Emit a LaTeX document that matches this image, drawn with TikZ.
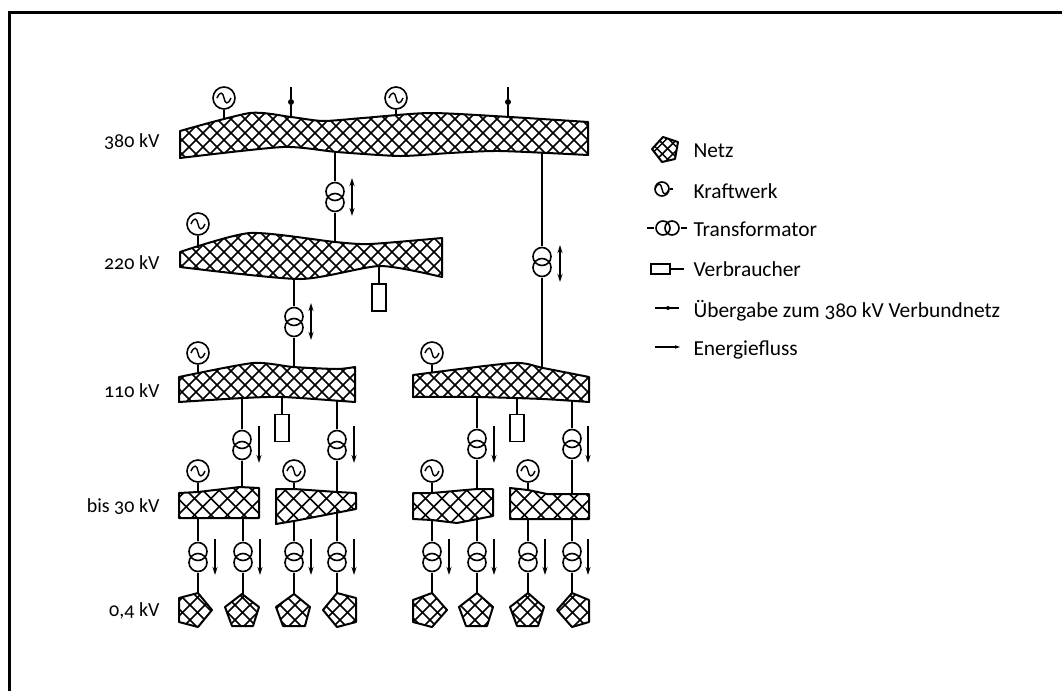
\documentclass[tikz,border=0pt]{standalone}
\usepackage{fontspec}
\setmainfont[Numbers=OldStyle]{Carlito}
\usetikzlibrary{arrows.meta}
\tikzset{
  netz/.style={line width=2pt,line join=round},
  schraffur/.style={line width=1.5pt},
  leitung/.style={line width=1.6pt},
  sinus/.style={path picture={\draw[line width=1.4pt,shift={(path picture bounding box.center)},scale=#1]
    (-7,0) .. controls (-4,-7) and (-1,-6) .. (0,0) .. controls (1,6) and (4,7) .. (7,0);}},
  gen/.style={circle,draw,line width=1.6pt,minimum size=22pt,inner sep=0pt,sinus=1},
  genklein/.style={circle,draw,line width=1.6pt,minimum size=14pt,inner sep=0pt,sinus=.62},
  trafo/.style={minimum width=21pt,minimum height=32pt,inner sep=0pt,
    path picture={\draw[line width=1.6pt,shift={(path picture bounding box.center)}]
      (0,-5.5) circle[radius=9] (0,5.5) circle[radius=9];}},
  trafoquer/.style={minimum width=26pt,minimum height=17pt,inner sep=0pt,
    path picture={\draw[line width=1.6pt,shift={(path picture bounding box.center)}]
      (-4.5,0) circle[radius=7] (4.5,0) circle[radius=7];}},
  last/.style={draw,line width=1.6pt,minimum width=14pt,minimum height=27pt,inner sep=0pt},
  lastquer/.style={draw,line width=1.6pt,minimum width=19pt,minimum height=10pt,inner sep=0pt},
  punkt/.style={circle,fill=black,minimum size=6pt,inner sep=0pt},
  ab/.style={line width=1.6pt,-{Stealth[length=8pt,width=5pt]}},
  beide/.style={line width=1.6pt,{Stealth[length=8pt,width=5pt]}-{Stealth[length=8pt,width=5pt]}},
  ebene/.style={anchor=east,font=\fontsize{20}{24}\selectfont},
  legende/.style={anchor=west,font=\fontsize{21.4}{24}\selectfont},
}
\newcommand{\netzfl}[2]{%
  \begin{scope}
  \clip #2;
  \pgfmathsetmacro\netzb{-700+#1}
  \foreach \d in {-700,\netzb,...,700} {
    \draw[schraffur] (\d,0)--(\d+700,700);
    \draw[schraffur] (\d,700)--(\d+700,0);
  }
  \end{scope}
  \draw[netz] #2;}
\begin{document}
\begin{tikzpicture}[x=1pt,y=-1pt]
\path[use as bounding box] (0,0) rectangle (1062,691);
\draw[line width=3pt] (9.5,691) -- (9.5,12.5) -- (1062,12.5);
% netze
\netzfl{14}{plot[smooth,tension=.4] coordinates {(180,131) (250,113) (291,117) (323,121) (363,118) (430,113) (510,117) (588,122)} -- plot[smooth,tension=.4] coordinates {(588,155) (500,151) (450,153) (400,156) (337,152) (283,147) (180,158)} -- cycle}
\netzfl{14}{plot[smooth,tension=.4] coordinates {(180,252) (250,233) (335,242) (370,244) (442,238)} -- plot[smooth,tension=.4] coordinates {(442,277) (380,266) (300,279) (180,267)} -- cycle}
\netzfl{14}{plot[smooth,tension=.4] coordinates {(179,377) (253,363) (293,367) (337,369) (355,367)} -- plot[smooth,tension=.4] coordinates {(355,402) (283,397) (243,398) (179,402)} -- cycle}
\netzfl{14}{plot[smooth,tension=.4] coordinates {(413,375) (513,363) (543,368) (589,377)} -- plot[smooth,tension=.4] coordinates {(589,402) (543,399) (477,397) (413,397)} -- cycle}
\netzfl{16.5}{(179,493)--(198,492)--(240,487)--(259,488)--(259,518)--(179,518)--cycle}
\netzfl{16.5}{(276,489)--(294,489)--(337,492)--(356,493)--(356,509)--(294,521)--(276,524)--cycle}
\netzfl{16.5}{(413,493)--(432,493)--(477,489)--(493,489)--(493,516)--(457,523)--(432,520)--(413,519)--cycle}
\netzfl{16.5}{(510,488)--(528,490)--(547,494)--(589,494)--(589,519)--(510,519)--cycle}
\netzfl{15}{(179,598)--(198,593)--(212,610)--(198,627)--(179,622)--cycle}
\netzfl{15}{(242,594)--(259,607)--(253,626)--(232,626)--(225,607)--cycle}
\netzfl{15}{(294,594)--(310,607)--(305,626)--(283,626)--(276,607)--cycle}
\netzfl{15}{(337,593)--(356,598)--(356,622)--(337,627)--(323,610)--cycle}
\netzfl{15}{(432,593)--(447,610)--(432,627)--(413,622)--(413,600)--cycle}
\netzfl{15}{(477,593)--(493,607)--(487,626)--(466,626)--(459,607)--cycle}
\netzfl{15}{(528,593)--(544,607)--(538,626)--(517,626)--(510,607)--cycle}
\netzfl{15}{(572,593)--(589,600)--(589,622)--(572,627)--(557,610)--cycle}
% anschluesse an den netzen
\coordinate (a380a) at (224,118);
\coordinate (a380b) at (396,115);
\coordinate (a380c) at (291,117);
\coordinate (a380d) at (508,117);
\coordinate (a380e) at (335,152);
\coordinate (a380f) at (542,152);
\coordinate (a220a) at (198,248);
\coordinate (a220b) at (335,242);
\coordinate (a220c) at (294,278);
\coordinate (a220d) at (379,266);
\coordinate (a110a) at (198,374);
\coordinate (a110b) at (294,367);
\coordinate (a110c) at (242,398);
\coordinate (a110d) at (282,397);
\coordinate (a110e) at (337,401);
\coordinate (a110f) at (432,373);
\coordinate (a110g) at (542,368);
\coordinate (a110h) at (477,397);
\coordinate (a110i) at (517,398);
\coordinate (a110j) at (572,400);
\coordinate (a30a) at (198,492);
\coordinate (a30b) at (242,487);
\coordinate (a30c) at (198,518);
\coordinate (a30d) at (243,518);
\coordinate (a30e) at (294,489);
\coordinate (a30f) at (337,492);
\coordinate (a30g) at (294,521);
\coordinate (a30h) at (337,510);
\coordinate (a30i) at (432,493);
\coordinate (a30j) at (477,489);
\coordinate (a30k) at (432,520);
\coordinate (a30l) at (477,517);
\coordinate (a30m) at (528,490);
\coordinate (a30n) at (572,494);
\coordinate (a30o) at (528,519);
\coordinate (a30p) at (572,519);
\coordinate (p1) at (198,593);
\coordinate (p2) at (243,594);
\coordinate (p3) at (294,594);
\coordinate (p4) at (337,593);
\coordinate (p5) at (432,593);
\coordinate (p6) at (477,593);
\coordinate (p7) at (528,593);
\coordinate (p8) at (572,593);
\coordinate (u1o) at (291,87);
\coordinate (u2o) at (508,87);
% kraftwerke
\node[gen] (g1) at (224,98) {};
\node[gen] (g2) at (396,98) {};
\node[gen] (g3) at (198,224) {};
\node[gen] (g4) at (198,353) {};
\node[gen] (g5) at (432,353) {};
\node[gen] (g6) at (198,471) {};
\node[gen] (g7) at (294,471) {};
\node[gen] (g8) at (432,471) {};
\node[gen] (g9) at (528,471) {};
\draw[leitung] (g1) -- (a380a);
\draw[leitung] (g2) -- (a380b);
\draw[leitung] (g3) -- (a220a);
\draw[leitung] (g4) -- (a110a);
\draw[leitung] (g5) -- (a110f);
\draw[leitung] (g6) -- (a30a);
\draw[leitung] (g7) -- (a30e);
\draw[leitung] (g8) -- (a30i);
\draw[leitung] (g9) -- (a30m);
% uebergabe
\node[punkt] (u1) at (291,102) {};
\node[punkt] (u2) at (508,102) {};
\draw[leitung] (u1o) -- (u1) -- (a380c);
\draw[leitung] (u2o) -- (u2) -- (a380d);
% trafos
\node[trafo] (t1) at (335,197) {};
\node[trafo] (t2) at (542,262) {};
\node[trafo] (t3) at (294,322) {};
\node[trafo] (t4) at (242,445) {};
\node[trafo] (t5) at (337,445) {};
\node[trafo] (t6) at (477,444) {};
\node[trafo] (t7) at (572,444) {};
\node[trafo] (t8) at (198,557) {};
\node[trafo] (t9) at (243,557) {};
\node[trafo] (t10) at (294,557) {};
\node[trafo] (t11) at (337,557) {};
\node[trafo] (t12) at (432,557) {};
\node[trafo] (t13) at (477,557) {};
\node[trafo] (t14) at (528,557) {};
\node[trafo] (t15) at (572,557) {};
\draw[leitung] (a380e) -- (t1.north);
\draw[leitung] (t1.south) -- (a220b);
\draw[leitung] (a380f) -- (t2.north);
\draw[leitung] (t2.south) -- (a110g);
\draw[leitung] (a220c) -- (t3.north);
\draw[leitung] (t3.south) -- (a110b);
\draw[leitung] (a110c) -- (t4.north);
\draw[leitung] (t4.south) -- (a30b);
\draw[leitung] (a110e) -- (t5.north);
\draw[leitung] (t5.south) -- (a30f);
\draw[leitung] (a110h) -- (t6.north);
\draw[leitung] (t6.south) -- (a30j);
\draw[leitung] (a110j) -- (t7.north);
\draw[leitung] (t7.south) -- (a30n);
\draw[leitung] (a30c) -- (t8.north);
\draw[leitung] (t8.south) -- (p1);
\draw[leitung] (a30d) -- (t9.north);
\draw[leitung] (t9.south) -- (p2);
\draw[leitung] (a30g) -- (t10.north);
\draw[leitung] (t10.south) -- (p3);
\draw[leitung] (a30h) -- (t11.north);
\draw[leitung] (t11.south) -- (p4);
\draw[leitung] (a30k) -- (t12.north);
\draw[leitung] (t12.south) -- (p5);
\draw[leitung] (a30l) -- (t13.north);
\draw[leitung] (t13.south) -- (p6);
\draw[leitung] (a30o) -- (t14.north);
\draw[leitung] (t14.south) -- (p7);
\draw[leitung] (a30p) -- (t15.north);
\draw[leitung] (t15.south) -- (p8);
% verbraucher
\node[last] (v1) at (379,297.5) {};
\node[last] (v2) at (282,428) {};
\node[last] (v3) at (517,428) {};
\draw[leitung] (a220d) -- (v1);
\draw[leitung] (a110d) -- (v2);
\draw[leitung] (a110i) -- (v3);
% energiefluss
\coordinate (f1a) at (352,178); \coordinate (f1b) at (352,216);
\coordinate (f2a) at (311,303); \coordinate (f2b) at (311,340);
\coordinate (f3a) at (560,245); \coordinate (f3b) at (560,282);
\coordinate (f4a) at (259,426); \coordinate (f4b) at (259,463);
\coordinate (f5a) at (354,426); \coordinate (f5b) at (354,463);
\coordinate (f6a) at (494,426); \coordinate (f6b) at (494,463);
\coordinate (f7a) at (588,426); \coordinate (f7b) at (588,463);
\coordinate (f8a) at (215,539); \coordinate (f8b) at (215,575);
\coordinate (f9a) at (260,539); \coordinate (f9b) at (260,575);
\coordinate (f10a) at (311,539); \coordinate (f10b) at (311,575);
\coordinate (f11a) at (354,539); \coordinate (f11b) at (354,575);
\coordinate (f12a) at (449,539); \coordinate (f12b) at (449,575);
\coordinate (f13a) at (494,539); \coordinate (f13b) at (494,575);
\coordinate (f14a) at (545,539); \coordinate (f14b) at (545,575);
\coordinate (f15a) at (588,539); \coordinate (f15b) at (588,575);
\draw[beide] (f1a) -- (f1b);
\draw[beide] (f2a) -- (f2b);
\draw[beide] (f3a) -- (f3b);
\draw[ab] (f4a) -- (f4b);
\draw[ab] (f5a) -- (f5b);
\draw[ab] (f6a) -- (f6b);
\draw[ab] (f7a) -- (f7b);
\draw[ab] (f8a) -- (f8b);
\draw[ab] (f9a) -- (f9b);
\draw[ab] (f10a) -- (f10b);
\draw[ab] (f11a) -- (f11b);
\draw[ab] (f12a) -- (f12b);
\draw[ab] (f13a) -- (f13b);
\draw[ab] (f14a) -- (f14b);
\draw[ab] (f15a) -- (f15b);
% spannungsebenen
\node[ebene] (e380) at (163,141.5) {380 kV};
\node[ebene] (e220) at (163,262.5) {220 kV};
\node[ebene] (e110) at (163,391) {110 kV};
\node[ebene] (e30) at (163,506.5) {bis 30 kV};
\node[ebene] (e04) at (163,611) {0,4 kV};
% legende
\netzfl{10.6}{(652,149)--(663,137)--(678,142)--(675,159)--(662,162)--cycle}
\node[legende] (lnetz) at (690,151) {Netz};
\node[genklein] (lg) at (662,189) {};
\coordinate (lga) at (673,189);
\draw[leitung] (lg) -- (lga);
\node[legende] (lgt) at (690,191) {Kraftwerk};
\coordinate (lta) at (647,228);
\node[trafoquer] (lt) at (667.5,228) {};
\coordinate (ltb) at (687,228);
\draw[leitung] (lta) -- (lt.west) (lt.east) -- (ltb);
\node[legende] (ltt) at (690,229) {Transformator};
\node[lastquer] (lv) at (660.5,269) {};
\coordinate (lva) at (684,269);
\draw[leitung] (lv) -- (lva);
\node[legende] (lvt) at (690,269) {Verbraucher};
\coordinate (lua) at (655,308);
\coordinate (lub) at (679,308);
\node[punkt,minimum size=4pt] (lu) at (668,308) {};
\draw[leitung] (lua) -- (lub);
\node[legende] (lut) at (690,311) {Übergabe zum 380 kV Verbundnetz};
\coordinate (lea) at (655,347);
\coordinate (leb) at (680,347);
\draw[leitung,-{Stealth[length=5pt,width=3.5pt]}] (lea) -- (leb);
\node[legende] (let) at (690,350) {Energiefluss};
\end{tikzpicture}
\end{document}
